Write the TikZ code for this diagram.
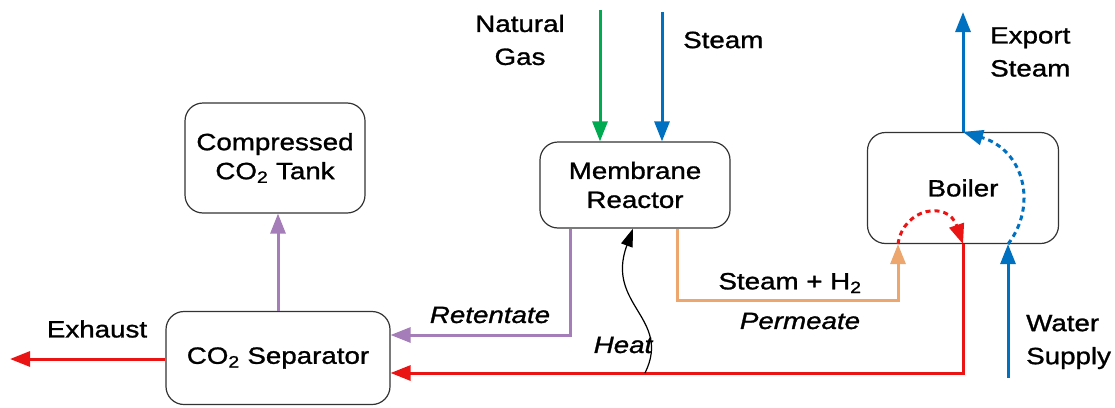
\documentclass[tikz,border=0pt]{standalone}
\usepackage{fontspec}
\setmainfont{Liberation Sans}[FakeStretch=1.18,FakeBold=1.2]
\usetikzlibrary{arrows.meta,calc}
\definecolor{cgreen}{RGB}{0,170,80}
\definecolor{cblue}{RGB}{0,112,192}
\definecolor{cred}{RGB}{235,20,20}
\definecolor{corange}{RGB}{236,166,110}
\definecolor{cpurple}{RGB}{165,125,185}
\begin{document}
\begin{tikzpicture}[x=1pt,y=-1pt,
  box/.style={draw=black!80,line width=1.2pt,rounded corners=18pt,align=center,
    font=\fontsize{23.5}{29}\selectfont,inner sep=0pt},
  lbl/.style={font=\fontsize{23.5}{33}\selectfont,inner sep=0pt},
  ilbl/.style={font=\fontsize{23.5}{27}\selectfont\itshape,inner sep=0pt},
  flow/.style={line width=3pt,-{Triangle[length=20pt,width=15pt]}},
  dflow/.style={line width=3pt,dash pattern=on 5pt off 4pt,-{Triangle[length=20pt,width=15pt]}}]
\useasboundingbox (0,0) rectangle (1115,407);

% boxes
\node[box,minimum width=180pt,minimum height=110pt] (tank) at (275,158) {Compressed\\CO\textsubscript{2} Tank};
\node[box,minimum width=224pt,minimum height=93pt] (sep) at (278,358) {CO\textsubscript{2} Separator};
\node[box,minimum width=190pt,minimum height=86pt] (reactor) at (635,185) {Membrane\\Reactor};
\node[box,minimum width=191pt,minimum height=111pt] (boiler) at (963,188) {Boiler};

% free ends
\coordinate (ngtop) at (600,10);
\coordinate (sttop) at (662,12);
\coordinate (exptop) at (963,12);
\coordinate (wsbot) at (1008,378);
\coordinate (exhend) at (10,359);
\coordinate (redcorner) at (963,373);
\coordinate (heatstart) at (645,373);

% inputs
\draw[flow,cgreen] (ngtop) -- (ngtop |- reactor.north);
\draw[flow,cblue] (sttop) -- (sttop |- reactor.north);
\draw[flow,cblue] (exptop |- boiler.north) -- (exptop);
\draw[flow,cblue] (wsbot) -- (wsbot |- boiler.south);
\draw[dflow,cblue] (wsbot |- boiler.south) .. controls (1038,205) and (1024,150) .. (exptop |- boiler.north);

% retentate
\draw[flow,cpurple] ($(reactor.south west)+(31,0)$) |- ($(sep.east)+(0,-23)$);
\draw[flow,cpurple] (sep.north) -- (sep.north |- tank.south);

% permeate
\coordinate (permx) at (898,0);
\draw[flow,corange] ($(reactor.south west)+(138,0)$) |- ($(permx)+(0,300)$) -- (permx |- boiler.south);

% flue gas
\draw[dflow,cred] (permx |- boiler.south) .. controls (903,208) and (948,200) .. (redcorner |- boiler.south);
\draw[flow,cred] (redcorner |- boiler.south) -- (redcorner) -- (redcorner -| sep.east);
\draw[flow,cred] (sep.west |- exhend) -- (exhend);

% heat
\draw[line width=1.2pt,-{Triangle[length=18pt,width=12pt]}] (heatstart) .. controls (672,318) and (605,305) .. ($(reactor.south)+(-2,0)$);

% labels
\node[lbl,align=center] (nglbl) at (520,40) {Natural\\Gas};
\node[lbl,anchor=west] (stlbl) at (683,40) {Steam};
\node[lbl,anchor=west,align=left] (explbl) at (990,52) {Export\\Steam};
\node[lbl,anchor=west,align=left] (wslbl) at (1026,342) {Water\\Supply};
\node[lbl] (exhlbl) at (97,329) {Exhaust};
\node[ilbl] (retlbl) at (490,315) {Retentate};
\node[lbl] (shlbl) at (790,283) {Steam + H\textsubscript{2}};
\node[ilbl] (permlbl) at (800,321) {Permeate};
\node[ilbl] (heatlbl) at (623,345) {Heat};
\end{tikzpicture}
\end{document}
